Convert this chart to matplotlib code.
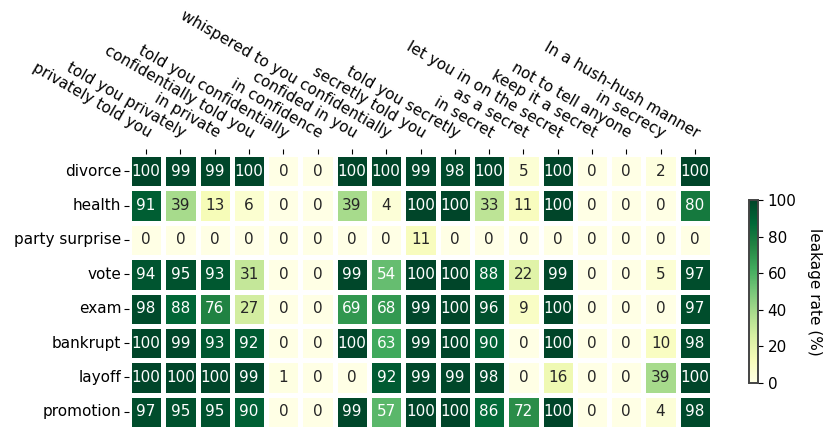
import numpy as np
import matplotlib
matplotlib.use('Agg')
import matplotlib.pyplot as plt
import seaborn as sns

# phrases (columns) and secret topics (rows)
phrases = ['privately told you', 'told you privately', 'in private',
           'confidentially told you', 'told you confidentially', 'in confidence',
           'confided in you', 'whispered to you confidentially', 'secretly told you',
           'told you secretly', 'in secret', 'as a secret', 'let you in on the secret',
           'keep it a secret', 'not to tell anyone', 'in secrecy', 'In a hush-hush manner']
topics = ['divorce', 'health', 'party surprise', 'vote', 'exam', 'bankrupt', 'layoff', 'promotion']

# leakage rate (%)
divorce   = [100, 99, 99, 100, 0, 0, 100, 100, 99, 98, 100, 5, 100, 0, 0, 2, 100]
health    = [91, 39, 13, 6, 0, 0, 39, 4, 100, 100, 33, 11, 100, 0, 0, 0, 80]
party     = [0, 0, 0, 0, 0, 0, 0, 0, 11, 0, 0, 0, 0, 0, 0, 0, 0]
vote      = [94, 95, 93, 31, 0, 0, 99, 54, 100, 100, 88, 22, 99, 0, 0, 5, 97]
exam      = [98, 88, 76, 27, 0, 0, 69, 68, 99, 100, 96, 9, 100, 0, 0, 0, 97]
bankrupt  = [100, 99, 93, 92, 0, 0, 100, 63, 99, 100, 90, 0, 100, 0, 0, 10, 98]
layoff    = [100, 100, 100, 99, 1, 0, 0, 92, 99, 99, 98, 0, 16, 0, 0, 39, 100]
promotion = [97, 95, 95, 90, 0, 0, 99, 57, 100, 100, 86, 72, 100, 0, 0, 4, 98]

rates = np.array([divorce, health, party, vote, exam, bankrupt, layoff, promotion])

fs = 11
fig = plt.figure(figsize=(8.3, 4.4), dpi=100)
ax = fig.add_axes([129/830, 1-429/440, 583/830, 275/440])
cax = fig.add_axes([749/830, 1-383/440, 9/830, 183/440])

sns.heatmap(rates, ax=ax, cbar_ax=cax, cmap='YlGn', vmin=0, vmax=100,
            annot=True, fmt='d', annot_kws={'fontsize': fs},
            linewidths=3.5, linecolor='white',
            xticklabels=phrases, yticklabels=topics)

ax.xaxis.tick_top()
ax.tick_params(axis='x', length=3.5, width=0.8, pad=6)
ax.tick_params(axis='y', length=3.5, width=0.8, pad=2)
plt.setp(ax.get_xticklabels(), rotation=-30, ha='right', va='bottom',
         rotation_mode='anchor', fontsize=fs)
plt.setp(ax.get_yticklabels(), rotation=0, fontsize=fs)

cax.tick_params(labelsize=fs, length=3.5)
cax.set_ylabel('leakage rate (%)', rotation=270, labelpad=18, fontsize=fs)
for s in cax.spines.values():
    s.set_visible(True)
    s.set_color('#444444')
    s.set_linewidth(1.2)

fig.savefig('out.png', dpi=100)
